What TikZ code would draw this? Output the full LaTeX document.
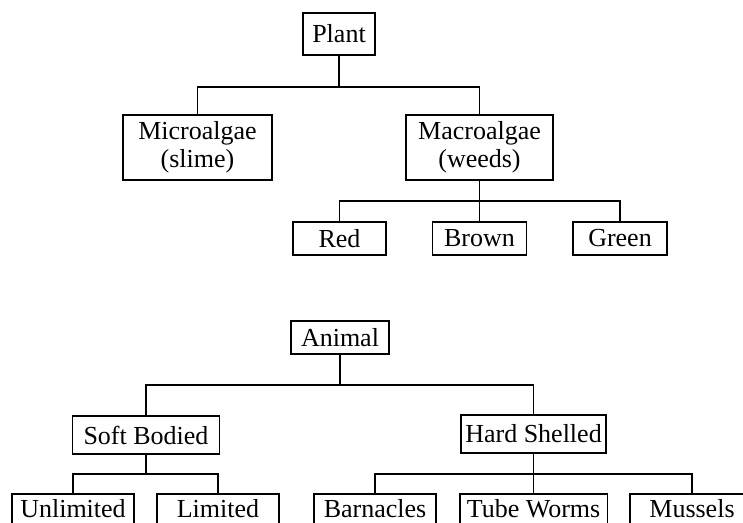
\documentclass[tikz,border=0pt]{standalone}
\usepackage{fontspec}
\setmainfont{Liberation Serif}
\begin{document}
\begin{tikzpicture}[x=1pt,y=-1pt,line width=1.6pt,
  box/.style={draw,rectangle,inner sep=0pt,align=center,
    font=\fontsize{26}{28}\selectfont},
  cutbox/.style={box,draw=none,minimum height=27}]
\useasboundingbox (0,0) rectangle (743,522);
\clip (0,0) rectangle (743,522);

\node[box,minimum width=72,minimum height=42] (plant) at (339,34) {Plant};
\node[box,minimum width=149,minimum height=65] (micro) at (197.5,147.5) {Microalgae\\(slime)};
\node[box,minimum width=147,minimum height=65] (macro) at (479.5,147.5) {Macroalgae\\(weeds)};

\node[box,minimum width=93,minimum height=33] (red) at (339.5,238.5) {Red};
\node[box,minimum width=94,minimum height=33] (brown) at (479.5,238.5) {Brown};
\node[box,minimum width=94,minimum height=33] (green) at (620,238.5) {Green};

\node[box,minimum width=98,minimum height=33] (animal) at (340,337.5) {Animal};
\node[box,minimum width=147,minimum height=38] (soft) at (146,435) {Soft Bodied};
\node[box,minimum width=145,minimum height=38] (hard) at (533.5,434) {Hard Shelled};

% bottom row runs off the lower edge, so no bottom side
\node[cutbox,minimum width=120] (unlim) at (73,508.5) {Unlimited};
\node[cutbox,minimum width=120] (lim) at (218,508.5) {Limited};
\node[cutbox,minimum width=120] (barn) at (375,508.5) {Barnacles};
\node[cutbox,minimum width=146] (tube) at (533.5,508.5) {Tube Worms};
\node[cutbox,minimum width=122] (muss) at (692,508.5) {Mussels};
\foreach \n in {unlim,lim,barn,tube,muss}
  \draw (\n.south west) |- (\n.north east) -- (\n.south east);

\coordinate (plantbus) at (339,87);
\coordinate (macrobus) at (479.5,201);
\coordinate (animalbus) at (340,385);
\coordinate (softbus) at (146,474);
\coordinate (hardbus) at (533.5,474);

\draw (plant) -- (plantbus);
\draw (plantbus) -| (micro);
\draw (plantbus) -| (macro);

\draw (macro) -- (macrobus);
\draw (macrobus) -| (red);
\draw (macrobus) -- (brown);
\draw (macrobus) -| (green);

\draw (animal) -- (animalbus);
\draw (animalbus) -| (soft);
\draw (animalbus) -| (hard);

\draw (soft) -- (softbus);
\draw (softbus) -| (unlim.north);
\draw (softbus) -| (lim.north);

\draw (hard) -- (hardbus);
\draw (hardbus) -| (barn.north);
\draw (hardbus) -- (tube.north);
\draw (hardbus) -| (muss.north);
\end{tikzpicture}
\end{document}
